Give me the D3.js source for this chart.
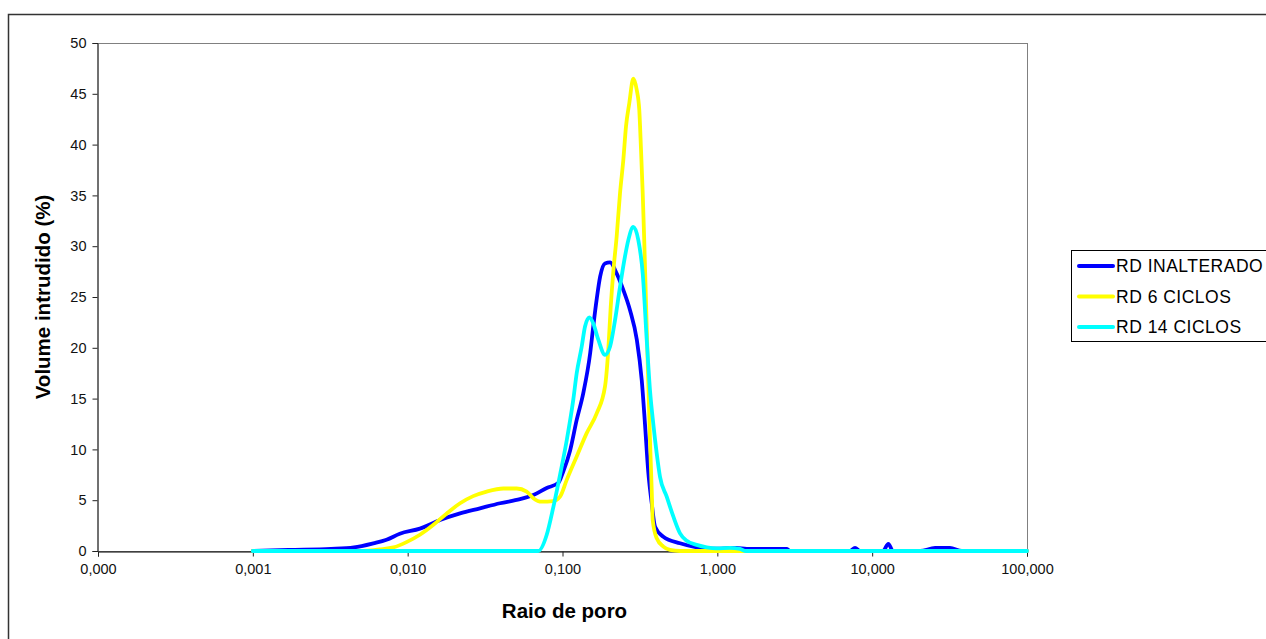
<!DOCTYPE html>
<html>
<head>
<meta charset="utf-8">
<script src="https://cdn.jsdelivr.net/npm/d3@7"></script>
<style>
  html, body { margin: 0; padding: 0; background: #fff; }
  svg { display: block; font-family: "Liberation Sans", Arial, sans-serif; }
</style>
</head>
<body>
<svg id="chart" width="1266" height="639"></svg>
<script>
// ---- data ----
const seriesNames = ["RD INALTERADO", "RD 6 CICLOS", "RD 14 CICLOS"];
const seriesColors = ["#0000ff", "#ffff00", "#00ffff"];

const blueR = [0.001,0.0017,0.0032,0.0045,0.006,0.0073,0.0089,0.012,0.0162,0.0218,0.0293,0.0395,0.0532,0.0648,0.0791,0.094,0.101,0.112,0.1235,0.136,0.151,0.158,0.166,0.175,0.188,0.203,0.224,0.247,0.273,0.302,0.325,0.341,0.358,0.377,0.396,0.448,0.574,0.736,0.942,1.33,1.55,2.8,2.95,7.19,7.75,8.34,11.75,12.72,13.64,20.4,25.5,31.8,38,100];
const blueV = [0,0.1,0.2,0.35,0.75,1.1,1.7,2.2,3.05,3.7,4.2,4.7,5.1,5.5,6.2,6.7,7.8,9.9,12.9,15.5,19.5,22.1,24.7,27.0,28.3,28.4,27.3,25.7,23.7,20.8,16.8,12.5,7.8,4.7,2.4,1.4,0.76,0.36,0.22,0.3,0.2,0.2,0,0,0.3,0,0,0.7,0,0,0.3,0.3,0,0];

const yelR = [0.001,0.0049,0.0066,0.0081,0.0099,0.012,0.0146,0.0179,0.0218,0.0265,0.0324,0.0415,0.0506,0.0587,0.0648,0.0734,0.0868,0.0964,0.1065,0.1235,0.1433,0.1663,0.1882,0.1976,0.2048,0.2129,0.2239,0.2352,0.2471,0.2572,0.2701,0.2867,0.3015,0.3133,0.3214,0.3297,0.3376,0.3499,0.3674,0.3769,0.3825,0.406,0.448,0.495,0.574,100];
const yelV = [0,0,0.15,0.35,0.9,1.6,2.55,3.7,4.7,5.4,5.85,6.15,6.15,5.85,5.2,4.85,4.9,5.35,7.0,9.3,11.6,13.55,16.2,19.8,24.0,27.5,31,35.2,38.5,41.8,44.1,46.5,45.4,43.4,39.5,35.2,30.3,22,10.9,6,3.05,1.25,0.43,0.1,0,0];

const cyaR = [0.001,0.059,0.0698,0.0791,0.0872,0.0964,0.1065,0.1174,0.1235,0.133,0.1398,0.149,0.1581,0.1703,0.1882,0.2027,0.2183,0.2352,0.2533,0.2661,0.2867,0.3088,0.3297,0.3499,0.3674,0.3859,0.406,0.4264,0.471,0.5196,0.5741,0.6342,0.7359,0.854,0.991,1.207,1.401,1.53,100];
const cyaV = [0,0,0,1.6,4.3,7.5,10.9,14.9,17.5,20.1,22.1,23.0,22.4,20.8,19.3,20.1,22.7,26.0,29.0,30.6,31.9,30.6,27.3,20.8,15.8,12.5,9.6,7.3,5.35,3.4,1.74,1.0,0.6,0.36,0.26,0.3,0.2,0,0];

const xTickValues = [0.0001, 0.001, 0.01, 0.1, 1, 10, 100];
const xTickLabels = ["0,000", "0,001", "0,010", "0,100", "1,000", "10,000", "100,000"];
const yTickValues = [0, 5, 10, 15, 20, 25, 30, 35, 40, 45, 50];
const xTitle = "Raio de poro";
const yTitle = "Volume intrudido (%)";

// ---- layout ----
const svg = d3.select("#chart");
const plot = { left: 98, right: 1027, top: 43, bottom: 551 };

const x = d3.scaleLog().domain([0.0001, 100]).range([plot.left, plot.right]);
const y = d3.scaleLinear().domain([0, 50]).range([plot.bottom, plot.top]);

// outer chart border
svg.append("rect")
  .attr("x", 8.5).attr("y", 14.5)
  .attr("width", 1300).attr("height", 700)
  .attr("fill", "#fff").attr("stroke", "#333").attr("stroke-width", 1.5);

// plot area border
svg.append("rect")
  .attr("x", plot.left).attr("y", plot.top + 0.5)
  .attr("width", plot.right - plot.left + 0.5).attr("height", plot.bottom - plot.top)
  .attr("fill", "none").attr("stroke", "#808080").attr("stroke-width", 1);

// y axis
const yAxis = d3.axisLeft(y).tickValues(yTickValues).tickSize(5).tickPadding(6).tickFormat(d3.format("d"));
const gy = svg.append("g").attr("transform", `translate(${plot.left - 0.5},0)`).call(yAxis);
gy.select(".domain").attr("stroke", "#222");
gy.selectAll(".tick line").attr("stroke", "#222");
gy.selectAll("text").attr("font-size", "14.5px").attr("fill", "#111")
  .attr("font-family", "'Liberation Sans', Arial, sans-serif");

// x axis
const xAxis = d3.axisBottom(x).tickValues(xTickValues).tickSize(5).tickPadding(7)
  .tickFormat((d, i) => xTickLabels[i]);
const gx = svg.append("g").attr("transform", `translate(0,${plot.bottom + 0.5})`).call(xAxis);
gx.select(".domain").attr("stroke", "#000");
gx.selectAll(".tick line").attr("stroke", "#222");
gx.selectAll("text").attr("font-size", "14.5px").attr("fill", "#111")
  .attr("font-family", "'Liberation Sans', Arial, sans-serif");

// axis titles
svg.append("text")
  .attr("x", (plot.left + plot.right) / 2 + 2).attr("y", 618)
  .attr("text-anchor", "middle").attr("font-weight", "bold").attr("font-size", "20.5px")
  .attr("fill", "#000").text(xTitle);

svg.append("text")
  .attr("transform", "translate(50,297) rotate(-90)")
  .attr("text-anchor", "middle").attr("font-weight", "bold").attr("font-size", "20.5px")
  .attr("fill", "#000").text(yTitle);

// series
const series = [
  { name: seriesNames[0], color: seriesColors[0], data: d3.zip(blueR, blueV) },
  { name: seriesNames[1], color: seriesColors[1], data: d3.zip(yelR, yelV) },
  { name: seriesNames[2], color: seriesColors[2], data: d3.zip(cyaR, cyaV) }
];

const line = d3.line()
  .x(d => x(d[0]))
  .y(d => y(d[1]))
  .curve(d3.curveMonotoneX);

svg.append("g").selectAll("path")
  .data(series)
  .join("path")
  .attr("d", s => line(s.data))
  .attr("fill", "none")
  .attr("stroke", s => s.color)
  .attr("stroke-width", 3.8)
  .attr("stroke-linejoin", "round")
  .attr("stroke-linecap", "round");

// legend
const legend = svg.append("g");
legend.append("rect")
  .attr("x", 1071.5).attr("y", 250.5)
  .attr("width", 300).attr("height", 91)
  .attr("fill", "#fff").attr("stroke", "#000").attr("stroke-width", 1);

const rowY = d3.scaleLinear().domain([0, 2]).range([266, 327]);
const rows = legend.selectAll("g.row").data(series).join("g").attr("class", "row")
  .attr("transform", (d, i) => `translate(0,${rowY(i)})`);
rows.append("line")
  .attr("x1", 1079).attr("x2", 1113).attr("y1", 0).attr("y2", 0)
  .attr("stroke", d => d.color).attr("stroke-width", 4).attr("stroke-linecap", "round");
rows.append("text")
  .attr("x", 1116).attr("y", 6)
  .attr("font-size", "17.5px").attr("letter-spacing", "0.5px").attr("fill", "#000")
  .text(d => d.name);
</script>
</body>
</html>
